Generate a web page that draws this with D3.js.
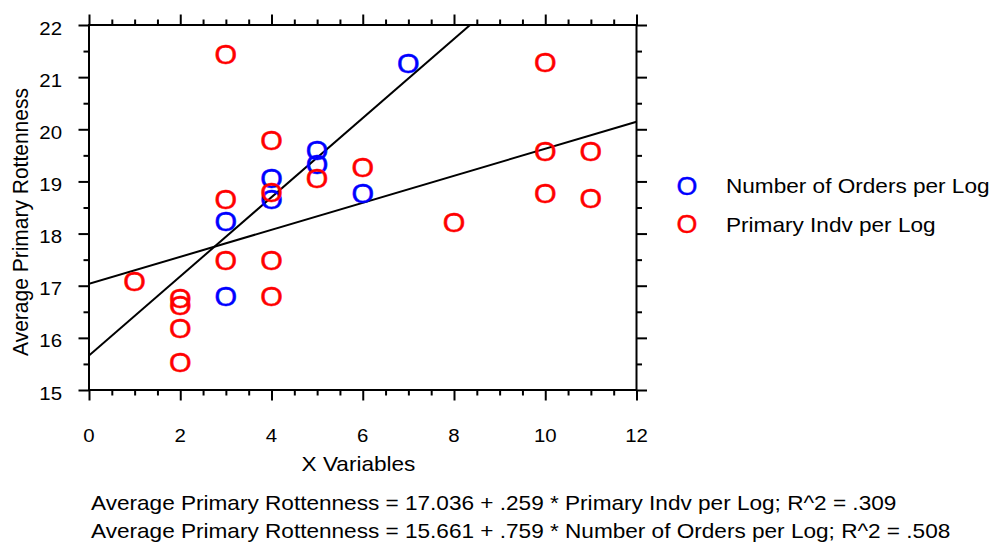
<!DOCTYPE html>
<html>
<head>
<meta charset="utf-8">
<script src="https://cdn.jsdelivr.net/npm/d3@7"></script>
<style>
  html, body { margin: 0; padding: 0; background: #fff; }
  svg { display: block; }
  text { font-family: "Liberation Sans", Arial, sans-serif; fill: #000; }
</style>
</head>
<body>
<svg id="chart" width="994" height="542"></svg>
<script>
const X_TICKS = [0, 2, 4, 6, 8, 10, 12];
const Y_TICKS = [15, 16, 17, 18, 19, 20, 21, 22];

const ORDERS_X = [3, 3, 4, 4, 5, 5, 6, 7];
const ORDERS_Y = [18.23, 16.80, 19.06, 18.66, 19.60, 19.32, 18.77, 21.27];

const INDV_X = [1, 2, 2, 2, 2, 3, 3, 3, 4, 4, 4, 4, 5, 6, 8, 10, 10, 10, 11, 11];
const INDV_Y = [17.09, 16.76, 16.63, 16.18, 15.54, 21.43, 18.65, 17.49, 19.78, 18.80, 17.49, 16.80, 19.06, 19.28, 18.21, 21.29, 19.57, 18.77, 19.57, 18.67];

const SERIES_NAMES = ["Number of Orders per Log", "Primary Indv per Log"];
const SERIES_COLORS = ["#0000ff", "#ff0000"];

// fit lines, straight from the printed equations
const FIT_INTERCEPTS = [15.661, 17.036];
const FIT_SLOPES = [0.759, 0.259];
const EQUATIONS = [
  "Average Primary Rottenness = 17.036 + .259 * Primary Indv per Log; R^2 = .309",
  "Average Primary Rottenness = 15.661 + .759 * Number of Orders per Log; R^2 = .508"
];

const X_TITLE = "X Variables";
const Y_TITLE = "Average Primary Rottenness";

// the source picture is a little wider than tall, text gets the same stretch
const STRETCH = 1.076;
const plot = { left: 89, right: 636.5, top: 25, bottom: 390 };

function stretched(x, y) {
  return `translate(${x},${y}) scale(${STRETCH},1)`;
}

const svg = d3.select("#chart");
const x = d3.scaleLinear().domain([0, 12]).range([plot.left, plot.right]);
const y = d3.scaleLinear().domain([15, 22]).range([plot.bottom, plot.top]);

const xMinor = d3.range(0, 12.01, 0.5).filter((value) => !X_TICKS.includes(value));
const yMinor = d3.range(15, 22.01, 0.5).filter((value) => !Y_TICKS.includes(value));

function drawAxis(axisFn, scale, transform, majors, minors) {
  const group = svg.append("g").attr("transform", transform);

  group.append("g")
    .call(axisFn(scale).tickValues(majors).tickSize(10.5).tickSizeOuter(0).tickFormat(""));
  group.append("g")
    .call(axisFn(scale).tickValues(minors).tickSize(5.5).tickSizeOuter(0).tickFormat(""));
  group.selectAll(".domain").remove();
  group.selectAll("line").attr("stroke", "#000").attr("stroke-width", 2);
}

drawAxis(d3.axisBottom, x, `translate(0,${plot.bottom})`, X_TICKS, xMinor);
drawAxis(d3.axisTop, x, `translate(0,${plot.top})`, X_TICKS, xMinor);
drawAxis(d3.axisLeft, y, `translate(${plot.left},0)`, Y_TICKS, yMinor);
drawAxis(d3.axisRight, y, `translate(${plot.right},0)`, Y_TICKS, yMinor);

svg.append("rect")
  .attr("x", plot.left)
  .attr("y", plot.top)
  .attr("width", plot.right - plot.left)
  .attr("height", plot.bottom - plot.top)
  .attr("fill", "none")
  .attr("stroke", "#000")
  .attr("stroke-width", 2);

svg.append("g")
  .selectAll("text")
  .data(X_TICKS)
  .join("text")
  .attr("transform", (value) => stretched(x(value), 442))
  .attr("text-anchor", "middle")
  .attr("font-size", 19)
  .text((value) => value);

svg.append("g")
  .selectAll("text")
  .data(Y_TICKS)
  .join("text")
  .attr("transform", (value) => stretched(62, y(value) + 9.5))
  .attr("text-anchor", "end")
  .attr("font-size", 19)
  .text((value) => value);

svg.append("text")
  .attr("transform", stretched(358.5, 471))
  .attr("text-anchor", "middle")
  .attr("font-size", 21)
  .text(X_TITLE);

svg.append("text")
  .attr("transform", `translate(28,222) scale(${STRETCH},1) rotate(-90)`)
  .attr("text-anchor", "middle")
  .attr("font-size", 21)
  .text(Y_TITLE);

svg.append("clipPath")
  .attr("id", "plot-clip")
  .append("rect")
  .attr("x", plot.left)
  .attr("y", plot.top)
  .attr("width", plot.right - plot.left)
  .attr("height", plot.bottom - plot.top);

const fitGroup = svg.append("g").attr("clip-path", "url(#plot-clip)");

FIT_INTERCEPTS.forEach((intercept, index) => {
  const line = d3.line()
    .x((value) => x(value))
    .y((value) => y(intercept + FIT_SLOPES[index] * value));

  fitGroup.append("path")
    .attr("d", line(x.domain()))
    .attr("fill", "none")
    .attr("stroke", "#000")
    .attr("stroke-width", 2);
});

const seriesPoints = [
  ORDERS_X.map((value, index) => ({ x: value, y: ORDERS_Y[index] })),
  INDV_X.map((value, index) => ({ x: value, y: INDV_Y[index] }))
];

seriesPoints.forEach((points, index) => {
  svg.append("g")
    .selectAll("text")
    .data(points)
    .join("text")
    .attr("transform", (point) => stretched(x(point.x), y(point.y)))
    .attr("dy", "0.36em")
    .attr("text-anchor", "middle")
    .attr("font-size", 27)
    .style("fill", SERIES_COLORS[index])
    .style("stroke", SERIES_COLORS[index])
    .style("stroke-width", 0.5)
    .text("O");
});

const legend = svg.append("g");

SERIES_NAMES.forEach((name, index) => {
  const rowY = 185.5 + index * 38.5;

  legend.append("text")
    .attr("transform", stretched(687, rowY))
    .attr("dy", "0.36em")
    .attr("text-anchor", "middle")
    .attr("font-size", 25)
    .style("fill", SERIES_COLORS[index])
    .style("stroke", SERIES_COLORS[index])
    .style("stroke-width", 0.4)
    .text("O");
  legend.append("text")
    .attr("transform", stretched(726, rowY + 7.5))
    .attr("font-size", 21)
    .text(name);
});

svg.append("g")
  .selectAll("text")
  .data(EQUATIONS)
  .join("text")
  .attr("transform", (value, index) => stretched(91, 510 + index * 28))
  .attr("font-size", 21)
  .text((value) => value);
</script>
</body>
</html>
